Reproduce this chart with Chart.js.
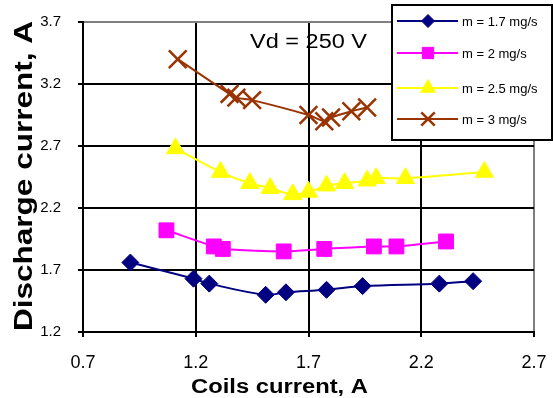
<!DOCTYPE html>
<html>
<head>
<meta charset="utf-8">
<script src="https://cdn.jsdelivr.net/npm/chart.js@4.4.1/dist/chart.umd.min.js"></script>
<style>
  html, body { margin: 0; padding: 0; background: #fff; }
  #wrap { width: 553px; height: 398px; }
</style>
</head>
<body>
<div id="wrap"><canvas id="c" width="553" height="398"></canvas></div>
<script>
// Coils current (A) and discharge current (A) for each mass flow rate
const seriesNames = ['m = 1.7 mg/s', 'm = 2 mg/s', 'm = 2.5 mg/s', 'm = 3 mg/s'];

const coils17 = [0.91, 1.19, 1.26, 1.51, 1.60, 1.78, 1.94, 2.28, 2.43];
const disch17 = [1.76, 1.63, 1.59, 1.50, 1.52, 1.54, 1.57, 1.59, 1.61];

const coils2 = [1.07, 1.28, 1.32, 1.59, 1.77, 1.99, 2.09, 2.31];
const disch2 = [2.02, 1.89, 1.87, 1.85, 1.87, 1.89, 1.89, 1.93];

const coils25 = [1.11, 1.31, 1.44, 1.53, 1.63, 1.70, 1.78, 1.86, 1.96, 2.00, 2.13, 2.48];
const disch25 = [2.68, 2.49, 2.40, 2.36, 2.31, 2.33, 2.38, 2.40, 2.42, 2.44, 2.44, 2.49];

const coils3 = [1.12, 1.35, 1.38, 1.45, 1.70, 1.77, 1.80, 1.89, 1.96];
const disch3 = [3.40, 3.12, 3.09, 3.07, 2.95, 2.90, 2.93, 2.98, 3.01];

const xTicks = [0.7, 1.2, 1.7, 2.2, 2.7];
const yTicks = [1.2, 1.7, 2.2, 2.7, 3.2, 3.7];

const annotation = 'Vd = 250 V';
const xTitle = 'Coils current, A';
const yTitle = 'Discharge current, A';

const FONT = 'Arial, "Liberation Sans", sans-serif';

function pairs(xs, ys) { return xs.map((x, i) => ({ x: x, y: ys[i] })); }

const styles = [
  { color: '#000080', pointStyle: 'rectRot', radius: 8.5, legendRadius: 6.5, bw: 1 },
  { color: '#FF00FF', pointStyle: 'rect', radius: 10.5, legendRadius: 8, bw: 1 },
  { color: '#FFFF00', pointStyle: 'triangle', radius: 10.5, legendRadius: 8.5, bw: 1 },
  { color: '#993300', pointStyle: 'crossRot', radius: 12.5, legendRadius: 9.5, bw: 2.5 }
];

const dataSets = [pairs(coils17, disch17), pairs(coils2, disch2), pairs(coils25, disch25), pairs(coils3, disch3)];

const datasets = dataSets.map((d, i) => ({
  label: seriesNames[i],
  data: d,
  showLine: true,
  tension: 0.35,
  borderColor: styles[i].color,
  backgroundColor: styles[i].color,
  borderWidth: 2,
  pointStyle: styles[i].pointStyle,
  pointRadius: styles[i].radius,
  pointHoverRadius: styles[i].radius,
  pointBorderWidth: styles[i].bw,
  pointBackgroundColor: styles[i].color,
  pointBorderColor: styles[i].color
}));

// Text drawn at a given font height and stretched to a given length
function drawText(ctx, text, x, y, font, targetW, angle, align) {
  ctx.save();
  ctx.font = font;
  const w = ctx.measureText(text).width;
  const sx = targetW ? targetW / w : 1;
  ctx.translate(x, y);
  if (angle) ctx.rotate(angle);
  ctx.scale(sx, 1);
  ctx.fillStyle = '#000';
  ctx.textAlign = align || 'center';
  ctx.textBaseline = 'alphabetic';
  ctx.fillText(text, 0, 0);
  ctx.restore();
}

const overlay = {
  id: 'overlay',
  afterDraw(chart) {
    const ctx = chart.ctx;
    const helpers = Chart.helpers;

    // annotation inside the plot
    drawText(ctx, annotation, 308.5, 48, '20px ' + FONT, 117, 0, 'center');

    // axis titles
    drawText(ctx, xTitle, 279.5, 393, 'bold 20px ' + FONT, 177, 0, 'center');
    drawText(ctx, yTitle, 32, 176, 'bold 25px ' + FONT, 310, -Math.PI / 2, 'center');

    // boxed legend overlapping the top-right corner
    const bx = 392, by = 5, bw = 160, bh = 135;
    ctx.save();
    ctx.fillStyle = '#fff';
    ctx.fillRect(bx, by, bw, bh);
    ctx.lineWidth = 2;
    ctx.strokeStyle = '#000';
    ctx.strokeRect(bx, by, bw, bh);
    const rows = [21, 53, 88, 119];
    rows.forEach((ry, i) => {
      const st = styles[i];
      ctx.strokeStyle = st.color;
      ctx.fillStyle = st.color;
      ctx.lineWidth = 2;
      ctx.beginPath();
      ctx.moveTo(397, ry);
      ctx.lineTo(458, ry);
      ctx.stroke();
      ctx.lineWidth = st.bw;
      helpers.drawPoint(ctx, { pointStyle: st.pointStyle, radius: st.legendRadius, rotation: 0, borderWidth: st.bw }, 428, ry);
      ctx.fillStyle = '#000';
      ctx.font = '13px ' + FONT;
      ctx.textAlign = 'left';
      ctx.textBaseline = 'middle';
      ctx.fillText(seriesNames[i], 462, ry + 1);
    });
    ctx.restore();
  }
};

const gridColor = (c) => (Math.abs(c.tick.value - c.scale.max) < 1e-6 ? '#808080' : '#000');

new Chart(document.getElementById('c'), {
  type: 'scatter',
  data: { datasets: datasets },
  options: {
    responsive: false,
    devicePixelRatio: 1,
    animation: false,
    layout: { autoPadding: false, padding: { top: 22, right: 19, left: 0, bottom: 0 } },
    plugins: { legend: { display: false }, tooltip: { enabled: false } },
    scales: {
      x: {
        type: 'linear',
        min: xTicks[0],
        max: xTicks[xTicks.length - 1],
        afterBuildTicks: (s) => { s.ticks = xTicks.map(v => ({ value: v })); },
        afterFit: (s) => { s.height = 66; s.paddingLeft = 0; s.paddingRight = 0; },
        ticks: {
          callback: (v) => Number(v).toFixed(1),
          color: '#000',
          font: { family: FONT, size: 18 },
          padding: 15,
          maxRotation: 0
        },
        grid: { color: gridColor, lineWidth: 2, tickLength: 5, tickColor: '#000', tickWidth: 2 },
        border: { display: true, color: '#000', width: 2 }
      },
      y: {
        type: 'linear',
        min: yTicks[0],
        max: yTicks[yTicks.length - 1],
        afterBuildTicks: (s) => { s.ticks = yTicks.map(v => ({ value: v })); },
        afterFit: (s) => { s.width = 83; s.paddingTop = 0; s.paddingBottom = 0; },
        ticks: {
          callback: (v) => Number(v).toFixed(1),
          color: '#000',
          font: { family: FONT, size: 15 },
          padding: 17
        },
        grid: { color: gridColor, lineWidth: 2, tickLength: 5, tickColor: '#000', tickWidth: 2 },
        border: { display: true, color: '#000', width: 2 }
      }
    }
  },
  plugins: [overlay]
});
</script>
</body>
</html>
